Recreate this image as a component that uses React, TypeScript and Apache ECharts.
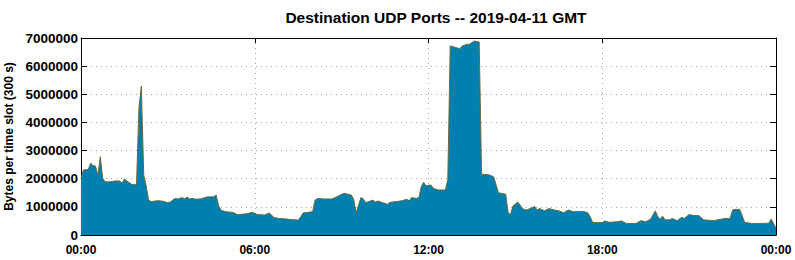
import React, { useEffect, useRef } from "react";
import * as echarts from "echarts";

const TITLE = "Destination UDP Ports -- 2019-04-11 GMT";
const Y_NAME = "Bytes per time slot (300 s)";
const X_TICKS = ["00:00", "06:00", "12:00", "18:00", "00:00"];

// minutes since 00:00 GMT
const minutes = [
  0, 5, 15, 20, 25, 30, 35, 40, 45, 50, 60, 70, 80, 85, 90, 95, 105, 115, 120, 125,
  130, 135, 140, 145, 150, 160, 170, 180, 185, 190, 195, 200, 210, 215, 220, 225, 230, 240, 250, 260,
  275, 280, 285, 290, 300, 315, 325, 345, 355, 365, 380, 390, 400, 410, 425, 435, 450, 455, 460, 480,
  485, 490, 505, 520, 530, 545, 560, 565, 570, 580, 585, 590, 605, 610, 615, 625, 635, 640, 655, 665,
  675, 680, 685, 695, 700, 705, 710, 715, 725, 730, 740, 755, 760, 765, 785, 790, 800, 805, 815, 825,
  830, 845, 855, 865, 880, 885, 890, 895, 905, 915, 920, 925, 930, 940, 945, 950, 960, 970, 980, 990,
  1000, 1010, 1020, 1040, 1050, 1055, 1060, 1070, 1080, 1085, 1095, 1110, 1120, 1130, 1150, 1160, 1170, 1180, 1190, 1195,
  1200, 1205, 1210, 1220, 1225, 1235, 1245, 1250, 1260, 1270, 1280, 1290, 1310, 1320, 1335, 1345, 1350, 1355, 1365, 1375,
  1390, 1410, 1425, 1430, 1435, 1440,
];

const bytes = [
  2000000, 2310000, 2330000, 2550000, 2470000, 2450000, 2130000, 2780000, 2010000, 1890000, 1890000, 1920000, 1920000, 1840000, 1990000, 1920000, 1800000, 1780000, 4500000, 5290000,
  2130000, 1750000, 1250000, 1180000, 1200000, 1220000, 1200000, 1150000, 1170000, 1240000, 1300000, 1280000, 1330000, 1280000, 1350000, 1280000, 1300000, 1270000, 1290000, 1350000,
  1360000, 1420000, 1050000, 880000, 830000, 800000, 720000, 760000, 810000, 730000, 710000, 780000, 620000, 590000, 570000, 550000, 530000, 640000, 780000, 830000,
  1240000, 1300000, 1280000, 1280000, 1360000, 1480000, 1420000, 1270000, 790000, 1330000, 1280000, 1150000, 1240000, 1170000, 1210000, 1150000, 1090000, 1160000, 1190000, 1220000,
  1270000, 1210000, 1330000, 1300000, 1330000, 1720000, 1870000, 1750000, 1780000, 1660000, 1600000, 1600000, 1980000, 6720000, 6620000, 6720000, 6780000, 6780000, 6890000, 6860000,
  2160000, 2140000, 2070000, 1500000, 1450000, 790000, 730000, 1030000, 1170000, 940000, 890000, 900000, 940000, 1010000, 890000, 940000, 860000, 940000, 890000, 860000,
  790000, 890000, 830000, 840000, 790000, 650000, 450000, 440000, 440000, 500000, 450000, 470000, 500000, 410000, 410000, 510000, 470000, 560000, 860000, 650000,
  560000, 670000, 540000, 540000, 590000, 510000, 630000, 590000, 730000, 690000, 690000, 540000, 510000, 540000, 590000, 590000, 890000, 910000, 910000, 450000,
  410000, 410000, 420000, 570000, 410000, 240000,
];

const FONT = "Liberation Sans, Arial, sans-serif";

export default function App() {
  const ref = useRef<HTMLDivElement>(null);
  useEffect(() => {
    document.body.style.margin = "0";
    if (!ref.current) return;
    const chart = echarts.init(ref.current, null, { renderer: "svg" });
    const data = minutes.map((m, i) => [m, bytes[i]]);
    const fmtX = (v: number) => X_TICKS[Math.round(v / 360)] ?? "";
    const gridLine = { show: true, lineStyle: { color: "#a8a8a8", width: 1, type: [1, 4] as any } };
    chart.setOption({
      animation: false,
      backgroundColor: "#ffffff",
      title: {
        text: TITLE,
        left: 431,
        top: 4,
        textAlign: "center",
        textStyle: { fontFamily: FONT, fontSize: 15.5, fontWeight: "bold", color: "#000" },
      },
      grid: { left: 81, top: 38, width: 695, height: 197, containLabel: false, outerBoundsMode: "none" },
      xAxis: [
        {
          type: "value",
          min: 0,
          max: 1440,
          interval: 360,
          position: "bottom",
          axisLine: { show: true, onZero: false, lineStyle: { color: "#000", width: 1 } },
          axisTick: { show: true, inside: true, length: 5, lineStyle: { color: "#000" } },
          axisLabel: { formatter: fmtX, margin: 9, fontFamily: FONT, fontSize: 12, fontWeight: "bold", color: "#000" },
          splitLine: gridLine,
        },
        {
          type: "value",
          min: 0,
          max: 1440,
          interval: 360,
          position: "top",
          axisLine: { show: true, onZero: false, lineStyle: { color: "#000", width: 1 } },
          axisTick: { show: true, inside: true, length: 5, lineStyle: { color: "#000" } },
          axisLabel: { show: false },
          splitLine: { show: false },
        },
      ],
      yAxis: [
        {
          type: "value",
          min: 0,
          max: 7000000,
          interval: 1000000,
          position: "left",
          name: Y_NAME,
          nameLocation: "middle",
          nameGap: 59,
          nameTextStyle: { fontFamily: FONT, fontSize: 12, fontWeight: "bold", color: "#000" },
          axisLine: { show: true, onZero: false, lineStyle: { color: "#000", width: 1 } },
          axisTick: { show: true, inside: true, length: 6, lineStyle: { color: "#000" } },
          axisLabel: { formatter: (v: number) => String(v), margin: 3, fontFamily: FONT, fontSize: 13.5, fontWeight: "bold", color: "#000" },
          splitLine: gridLine,
        },
        {
          type: "value",
          min: 0,
          max: 7000000,
          interval: 1000000,
          position: "right",
          axisLine: { show: true, onZero: false, lineStyle: { color: "#000", width: 1 } },
          axisTick: { show: true, inside: true, length: 6, lineStyle: { color: "#000" } },
          axisLabel: { show: false },
          splitLine: { show: false },
        },
      ],
      series: [
        {
          type: "line",
          xAxisIndex: 0,
          yAxisIndex: 0,
          data,
          symbol: "none",
          smooth: false,
          lineStyle: { color: "#6e6a3c", width: 1 },
          areaStyle: { color: "#0080b0", opacity: 1 },
          z: 1,
        },
      ],
    });
    return () => chart.dispose();
  }, []);
  return <div ref={ref} style={{ position: "fixed", left: 0, top: 0, width: 795, height: 260 }} />;
}
